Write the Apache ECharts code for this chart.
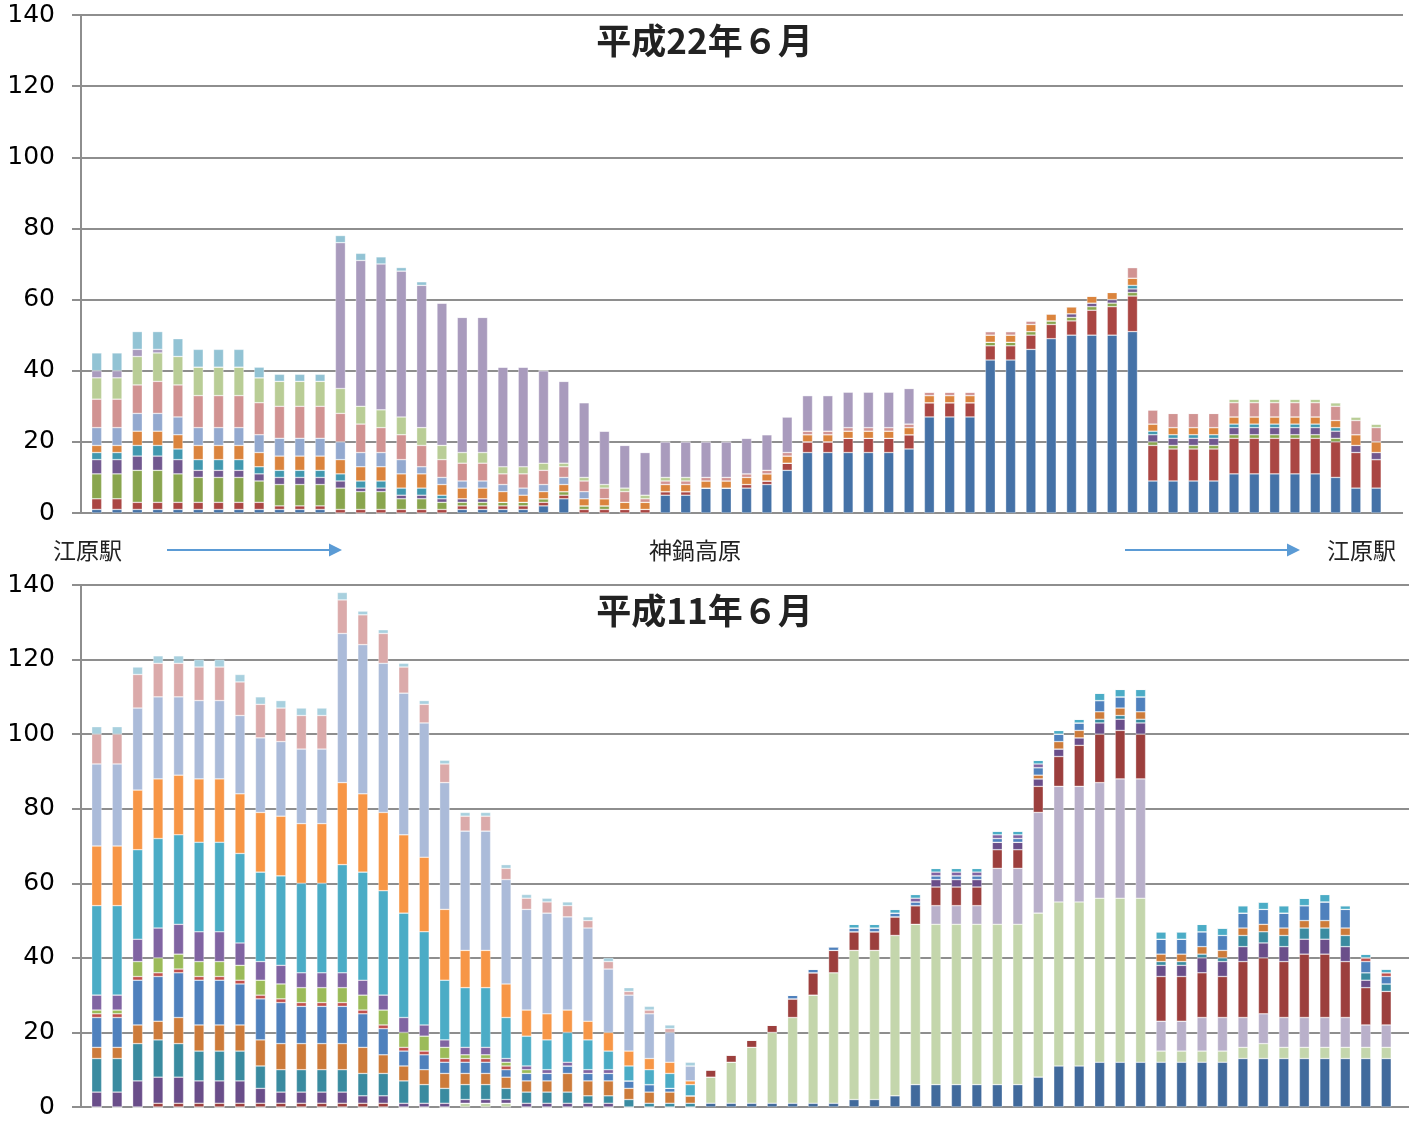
<!DOCTYPE html>
<html><head><meta charset="utf-8">
<script src="https://cdn.jsdelivr.net/npm/echarts@6/dist/echarts.min.js"></script>
<style>html,body{margin:0;padding:0;background:#fff}#c{width:1409px;height:1121px}</style>
</head><body><div id="c"></div>
<script>
// ---------- DATA ----------
const stops = Array.from({length:64},(_,i)=>String(i+1));
const yTicks = [0,20,40,60,80,100,120,140];
const titleTop = '平成22年６月';
const titleBottom = '平成11年６月';
const routeLabels = ['江原駅','神鍋高原','江原駅'];

// 平成22年 (top) series, bottom->top stacking order
const t1  = [1,1,1,1,1,1,1,1,1,1,1,1,0,0,0,0,0,0,1,1,1,1,2,4,0,0,0,0,5,5,7,7,7,8,12,17,17,17,17,17,18,27,27,27,43,43,46,49,50,50,50,51,9,9,9,9,11,11,11,11,11,10,7,7];
const t2  = [3,3,2,2,2,2,2,2,2,1,1,1,1,1,1,1,1,1,1,1,1,1,1,1,1,1,1,1,1,1,0,0,1,1,2,3,3,4,4,4,4,4,4,4,4,4,4,4,4,7,8,10,10,9,9,9,10,10,10,10,10,10,10,8];
const t3  = [7,7,9,9,8,7,7,7,6,6,6,6,6,5,5,3,3,2,1,1,1,1,1,1,1,1,0,0,0,0,0,0,0,0,0,0,0,0,0,0,0,0,0,0,1,1,1,1,1,1,1,1,1,1,1,1,1,1,1,1,1,1,0,0];
const t4  = [4,4,4,4,4,2,2,2,2,2,2,2,2,1,1,1,1,1,1,1,0,0,0,0,0,0,0,0,0,0,0,0,0,0,0,0,0,0,0,0,0,0,0,0,0,0,0,0,1,1,1,1,2,2,2,2,2,2,2,2,2,2,2,2];
const t5  = [2,2,3,3,3,3,3,3,2,2,2,2,2,2,2,2,2,1,0,0,0,0,0,0,0,0,0,0,0,0,0,0,0,0,0,0,0,0,0,0,0,0,0,0,0,0,0,0,0,0,0,1,1,1,1,1,1,1,1,1,1,1,0,0];
const t6  = [2,2,4,4,4,4,4,4,4,4,4,4,4,4,4,4,4,3,3,3,3,2,2,2,2,2,2,2,2,2,2,2,2,2,2,2,2,2,2,2,2,2,2,2,2,2,2,2,2,2,2,2,2,2,2,2,2,2,2,2,2,2,3,3];
const t7  = [5,5,5,5,5,5,5,5,5,5,5,5,5,4,4,4,2,2,2,2,2,2,2,2,2,0,0,0,0,0,0,0,0,0,0,0,0,0,0,0,0,0,0,0,0,0,0,0,0,0,0,0,0,0,0,0,0,0,0,0,0,0,0,0];
const t8  = [8,8,8,9,9,9,9,9,9,9,9,9,8,8,7,7,6,5,5,5,3,4,4,3,3,3,3,1,1,1,1,1,1,1,1,1,1,1,1,1,1,1,1,1,1,1,1,0,0,0,0,3,4,4,4,4,4,4,4,4,4,4,4,4];
const t9  = [6,6,8,8,8,8,8,8,7,7,7,7,7,5,5,5,5,4,3,3,2,2,2,1,1,1,1,1,1,1,0,0,0,0,0,0,0,0,0,0,0,0,0,0,0,0,0,0,0,0,0,0,0,0,0,0,1,1,1,1,1,1,1,1];
const t10 = [2,2,2,1,0,0,0,0,0,0,0,0,41,41,41,41,40,40,38,38,28,28,26,23,21,15,12,12,10,10,10,10,10,10,10,10,10,10,10,10,10,0,0,0,0,0,0,0,0,0,0,0,0,0,0,0,0,0,0,0,0,0,0,0];
const t11 = [5,5,5,5,5,5,5,5,3,2,2,2,2,2,2,1,1,0,0,0,0,0,0,0,0,0,0,0,0,0,0,0,0,0,0,0,0,0,0,0,0,0,0,0,0,0,0,0,0,0,0,0,0,0,0,0,0,0,0,0,0,0,0,0];

// 平成11年 (bottom) series, bottom->top stacking order
const b1  = [0,0,0,0,0,0,0,0,0,0,0,0,0,0,0,0,0,0,0,0,0,0,0,0,0,0,0,0,0,0,1,1,1,1,1,1,1,2,2,3,6,6,6,6,6,6,8,11,11,12,12,12,12,12,12,12,13,13,13,13,13,13,13,13];
const b2  = [0,0,0,0,0,0,0,0,0,0,0,0,0,0,0,0,0,0,1,1,1,0,0,0,0,0,0,0,0,0,7,11,15,19,23,29,35,40,40,43,43,43,43,43,43,43,44,44,44,44,44,44,3,3,3,3,3,4,3,3,3,3,3,3];
const b3  = [0,0,0,0,0,0,0,0,0,0,0,0,0,0,0,0,0,0,0,0,0,0,0,0,0,0,0,0,0,0,0,0,0,0,0,0,0,0,0,0,0,5,5,5,15,15,27,31,31,31,32,32,8,8,9,9,8,8,8,8,8,8,6,6];
const b4  = [0,0,0,1,1,1,1,1,1,1,1,1,1,1,1,0,0,0,0,0,0,0,0,0,0,0,0,0,0,0,2,2,2,2,5,6,6,5,5,5,5,5,5,5,5,5,7,8,11,13,13,12,12,12,12,11,15,15,15,17,17,15,10,9];
const b5  = [4,4,7,7,7,6,6,6,4,3,3,3,3,2,2,1,1,1,1,1,1,1,1,1,1,1,0,0,0,0,0,0,0,0,0,0,0,0,0,0,0,2,2,2,2,2,2,2,2,3,3,3,3,3,4,4,4,4,4,4,4,4,2,0];
const b6  = [9,9,10,10,9,8,8,8,6,6,6,6,6,6,6,6,5,4,4,4,3,3,3,3,2,2,2,1,1,1,0,0,0,0,0,0,0,0,0,0,0,0,0,0,0,0,0,0,0,1,1,1,1,1,1,1,3,3,3,3,3,3,2,2];
const b7  = [3,3,5,5,7,7,7,7,7,7,7,7,7,7,5,4,4,4,3,3,3,3,3,5,4,4,3,3,3,2,0,0,0,0,0,0,0,0,0,0,0,0,0,0,0,0,1,2,2,2,2,2,2,2,2,2,2,2,2,2,2,2,0,0];
const b8  = [8,8,12,12,12,12,12,11,11,11,10,10,10,9,7,4,4,3,3,3,2,2,2,2,2,2,2,2,1,0,0,0,0,0,1,1,1,1,1,1,1,1,1,1,1,1,2,2,2,3,3,4,4,4,4,4,4,4,4,4,5,5,3,2];
const b9  = [1,1,1,1,1,1,1,1,1,1,1,1,1,1,1,1,1,1,1,1,1,0,0,0,0,0,0,0,0,0,0,0,0,0,0,0,0,0,0,0,0,0,0,0,0,0,0,0,0,0,0,0,0,0,0,0,0,0,0,0,0,0,1,1];
const b10 = [1,1,4,4,4,4,4,4,4,4,4,4,4,4,4,4,4,3,1,1,1,1,0,0,0,0,0,0,0,0,0,0,0,0,0,0,0,0,0,0,0,0,0,0,0,0,0,0,0,0,0,0,0,0,0,0,0,0,0,0,0,0,0,0];
const b11 = [4,4,6,8,8,8,8,6,5,5,4,4,4,4,4,4,3,2,2,2,1,1,1,1,1,1,0,0,0,0,0,0,0,0,0,0,0,0,0,0,1,1,1,1,1,1,1,0,0,0,0,0,0,0,0,0,0,0,0,0,0,0,0,0];
const b12 = [24,24,24,24,24,24,24,24,24,24,24,24,29,29,28,28,25,16,16,16,11,8,8,8,8,5,4,4,4,3,0,0,0,0,0,0,0,1,1,1,1,1,1,1,1,1,1,1,1,2,2,2,2,2,2,2,2,2,2,2,2,1,1,1];
const b13 = [16,16,16,16,16,17,17,16,16,16,16,16,22,21,21,21,20,19,10,10,9,7,7,6,5,5,4,3,3,1,0,0,0,0,0,0,0,0,0,0,0,0,0,0,0,0,0,0,0,0,0,0,0,0,0,0,0,0,0,0,0,0,0,0];
const b14 = [22,22,22,22,21,21,21,21,20,20,20,20,40,40,40,38,36,34,32,32,28,27,27,25,25,17,15,12,8,4,0,0,0,0,0,0,0,0,0,0,0,0,0,0,0,0,0,0,0,0,0,0,0,0,0,0,0,0,0,0,0,0,0,0];
const b15 = [8,8,9,9,9,9,9,9,9,9,9,9,9,8,8,7,5,5,4,4,3,3,3,3,2,2,1,1,1,0,0,0,0,0,0,0,0,0,0,0,0,0,0,0,0,0,0,0,0,0,0,0,0,0,0,0,0,0,0,0,0,0,0,0];
const b16 = [2,2,2,2,2,2,2,2,2,2,2,2,2,1,1,1,1,1,1,1,1,1,1,1,1,1,1,1,1,1,0,0,0,0,0,0,0,0,0,0,0,0,0,0,0,0,0,0,0,0,0,0,0,0,0,0,0,0,0,0,0,0,0,0];

// ---------- STYLE ----------
const topSeries = [t1,t2,t3,t4,t5,t6,t7,t8,t9,t10,t11];
const topColors = ['#4572a7','#aa4643','#89a54e','#71588f','#4198af','#db843d','#93a9cf','#d19392','#b9cd96','#a99bbd','#92c3d4'];
const botSeries = [b1,b2,b3,b4,b5,b6,b7,b8,b9,b10,b11,b12,b13,b14,b15,b16];
const botColors = ['#416a9c','#c4d6ac','#b9b0ca','#9c3f3d','#6a4e8a','#3a8ba0','#cd7b3a','#4f81bd','#c0504d','#9bbb59','#8064a2','#4bacc6','#f79646','#abbbd9','#dbaaaa','#a8d0de'];

const gridColor = '#8e8e8e';
const labelFont = {fontFamily:'DejaVu Sans', fontSize:25, color:'#000'};
function frameY(idx){
  return {gridIndex:idx, type:'value', min:0, max:140, interval:20,
    axisLine:{show:true, lineStyle:{color:gridColor, width:2}},
    axisTick:{show:true, length:9, lineStyle:{color:gridColor, width:2}},
    splitLine:{show:true, lineStyle:{color:gridColor, width:2}},
    axisLabel:Object.assign({margin:26, formatter:v=>String(v)}, labelFont)};
}
function hiddenY(idx){ return {gridIndex:idx, type:'value', min:0, max:140, interval:20, show:false, splitLine:{show:false}}; }

const series = [];
topSeries.forEach((d,i)=>series.push({type:'bar', stack:'top', xAxisIndex:1, yAxisIndex:1, data:d, barWidth:10,
  itemStyle:{color:topColors[i], borderColor:'rgba(255,255,255,0.55)', borderWidth:0.6}, silent:true}));
botSeries.forEach((d,i)=>series.push({type:'bar', stack:'bot', xAxisIndex:3, yAxisIndex:3, data:d, barWidth:10,
  itemStyle:{color:botColors[i], borderColor:'rgba(255,255,255,0.55)', borderWidth:0.6}, silent:true}));

const titleStyle = {fontFamily:'Noto Sans CJK JP', fontSize:35, fontWeight:'bold', color:'#222'};
const txtFont = '23px "Noto Sans CJK JP"';
const arrowColor = '#5b9bd5';

const chart = echarts.init(document.getElementById('c'), null, {renderer:'canvas'});
chart.setOption({
  animation:false,
  backgroundColor:'#fff',
  title:[
    {text:titleTop, left:'center', top:18, textStyle:titleStyle},
    {text:titleBottom, left:'center', top:588, textStyle:titleStyle}
  ],
  grid:[
    {left:81, right:6, top:15, height:498},
    {left:86.55, width:1299.8, top:15, height:498},
    {left:81, right:0, top:585, height:522},
    {left:86.47, width:1310, top:585, height:522}
  ],
  xAxis:[
    {gridIndex:0, type:'value', min:0, max:1, show:false, splitLine:{show:false}},
    {gridIndex:1, type:'category', data:stops, show:false},
    {gridIndex:2, type:'value', min:0, max:1, show:false, splitLine:{show:false}},
    {gridIndex:3, type:'category', data:stops, show:false}
  ],
  yAxis:[frameY(0), hiddenY(1), frameY(2), hiddenY(3)],
  series:series,
  graphic:[
    {type:'text', x:53, y:550, style:{text:routeLabels[0], font:txtFont, fill:'#222', textVerticalAlign:'middle'}},
    {type:'text', x:695, y:550, style:{text:routeLabels[1], font:txtFont, fill:'#222', textAlign:'center', textVerticalAlign:'middle'}},
    {type:'text', x:1396, y:550, style:{text:routeLabels[2], font:txtFont, fill:'#222', textAlign:'right', textVerticalAlign:'middle'}},
    {type:'line', shape:{x1:167,y1:550,x2:332,y2:550}, style:{stroke:arrowColor, lineWidth:2}},
    {type:'polygon', shape:{points:[[329,543.5],[342,550],[329,556.5]]}, style:{fill:arrowColor}},
    {type:'line', shape:{x1:1125,y1:550,x2:1290,y2:550}, style:{stroke:arrowColor, lineWidth:2}},
    {type:'polygon', shape:{points:[[1287,543.5],[1300,550],[1287,556.5]]}, style:{fill:arrowColor}}
  ]
});
</script></body></html>
